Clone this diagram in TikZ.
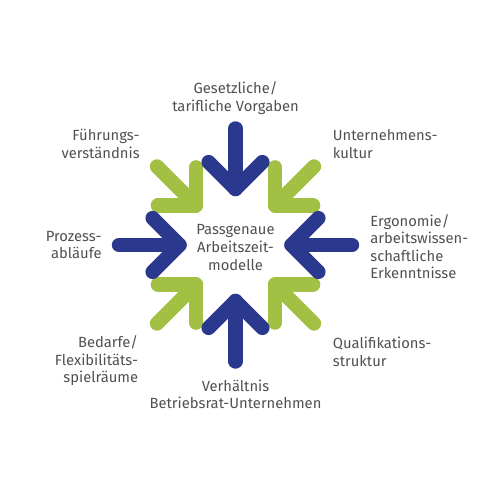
\documentclass[tikz,border=0pt]{standalone}
\usepackage{fontspec}
\setmainfont{Fira Sans}
\definecolor{dblau}{RGB}{42,57,141}
\definecolor{hgruen}{RGB}{162,192,67}
\definecolor{grautxt}{RGB}{80,80,80}
\begin{document}
\begin{tikzpicture}[lbl/.style={inner sep=0pt,text=grautxt,font=\fontsize{8.4}{10}\selectfont},
	pfeil/.style={line width=8.2pt,line cap=round,line join=round}]
	\useasboundingbox (-4.71,-5.1) rectangle (5.29,4.9);
	% Pfeile: erst gruen (diagonal), dann blau
	\foreach \a/\r/\c in {45/2.22/hgruen,135/2.22/hgruen,225/2.22/hgruen,315/2.22/hgruen,0/2.33/dblau,90/2.33/dblau,180/2.33/dblau,270/2.33/dblau}{
		\draw[pfeil,draw=\c] (\a:\r)--(\a:1.12);
		\draw[pfeil,draw=\c] (\a:1.12)++(\a+45:0.76)--(\a:1.12)--++(\a-45:0.76);
	}
	\node[lbl,align=center] (mitte) at (0,-0.05) {Passgenaue\\Arbeitszeit-\\modelle};
	\node[lbl,align=center] (gesetz) at (0,2.94) {Gesetzliche/\\tarifliche Vorgaben};
	\node[lbl,align=right,anchor=east] (fuehrung) at (-1.91,2.02) {Führungs-\\verständnis};
	\node[lbl,align=left,anchor=west] (kultur) at (1.94,2.02) {Unternehmens-\\kultur};
	\node[lbl,align=right,anchor=east] (prozess) at (-2.67,0) {Prozess-\\abläufe};
	\node[lbl,align=left,anchor=west] (ergo) at (2.69,-0.03) {Ergonomie/\\arbeitswissen-\\schaftliche\\Erkenntnisse};
	\node[lbl,align=right,anchor=east] (bedarf) at (-1.94,-2.32) {Bedarfe/\\Flexibilitäts-\\spielräume};
	\node[lbl,align=left,anchor=west] (quali) at (1.94,-2.14) {Qualifikations-\\struktur};
	\node[lbl,align=center] (verh) at (0,-2.99) {Verhältnis\\Betriebsrat-Unternehmen};
\end{tikzpicture}
\end{document}
